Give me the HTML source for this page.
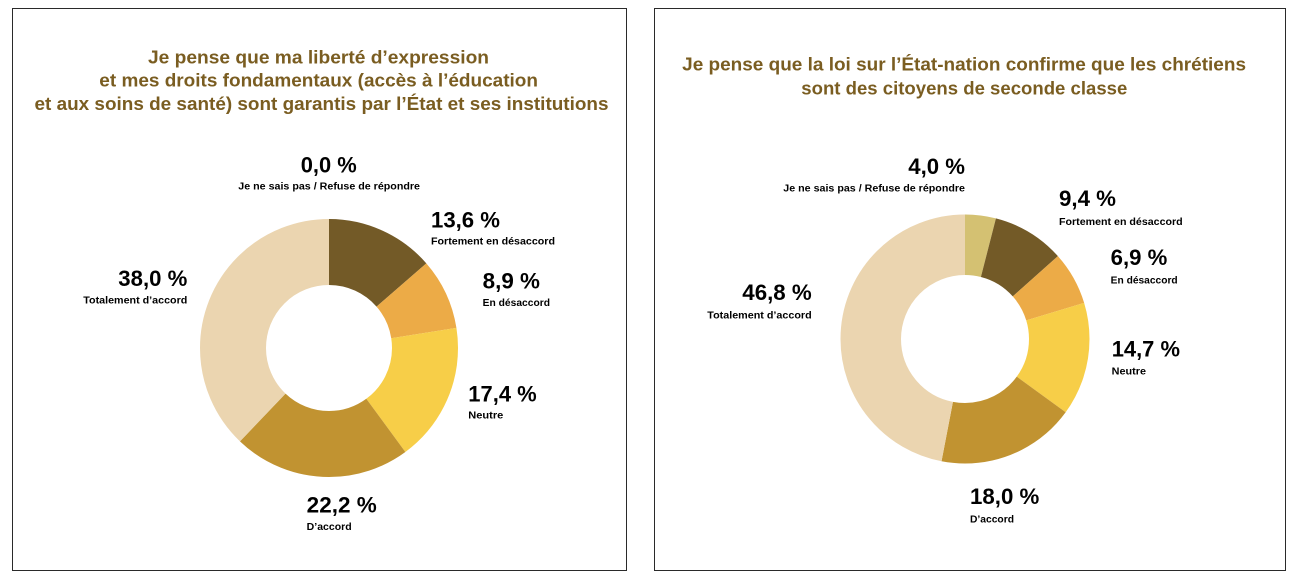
<!DOCTYPE html>
<html>
<head>
<meta charset="utf-8">
<style>
  html, body { margin: 0; padding: 0; background: #ffffff; }
  svg { display: block; }
  .t { font-family: "Liberation Sans", Arial, sans-serif; font-weight: bold; fill: #7a5d21; font-size: 18px; }
  .p { font-family: "Liberation Sans", Arial, sans-serif; font-weight: bold; fill: #000; font-size: 22px; }
  .l { font-family: "Liberation Sans", Arial, sans-serif; font-weight: bold; fill: #000; font-size: 10px; }
</style>
</head>
<body>
<svg width="1304" height="586" viewBox="0 0 1304 586" xmlns="http://www.w3.org/2000/svg">
  <rect x="0" y="0" width="1304" height="586" fill="#ffffff"/>

  <!-- Panels -->
  <rect x="12.5" y="8.5" width="614" height="562" fill="#ffffff" stroke="#2a2a2a" stroke-width="1"/>
  <rect x="654.5" y="8.5" width="631" height="562" fill="#ffffff" stroke="#2a2a2a" stroke-width="1"/>

  <!-- LEFT TITLE -->
  <text class="t" x="148" y="63.3" textLength="341" lengthAdjust="spacingAndGlyphs">Je pense que ma liberté d’expression</text>
  <text class="t" x="99.3" y="86.7" textLength="438.7" lengthAdjust="spacingAndGlyphs">et mes droits fondamentaux (accès à l’éducation</text>
  <text class="t" x="34.5" y="110" textLength="574" lengthAdjust="spacingAndGlyphs">et aux soins de santé) sont garantis par l’État et ses institutions</text>

  <!-- LEFT DONUT: center (329,348), r_mid 96, width 66, C=603.186 -->
  <g transform="rotate(-90 329 348)" fill="none" stroke-width="66">
    <circle cx="329" cy="348" r="96" stroke="#735a27" stroke-dasharray="82.03 603.19" stroke-dashoffset="0"/>
    <circle cx="329" cy="348" r="96" stroke="#ecab47" stroke-dasharray="53.68 603.19" stroke-dashoffset="-82.03"/>
    <circle cx="329" cy="348" r="96" stroke="#f7ce48" stroke-dasharray="104.95 603.19" stroke-dashoffset="-135.72"/>
    <circle cx="329" cy="348" r="96" stroke="#c19331" stroke-dasharray="133.91 603.19" stroke-dashoffset="-240.67"/>
    <circle cx="329" cy="348" r="96" stroke="#ebd5b0" stroke-dasharray="228.61 603.19" stroke-dashoffset="-374.58"/>
  </g>

  <!-- LEFT LABELS -->
  <text class="p" x="300.7" y="172.7" textLength="56" lengthAdjust="spacingAndGlyphs">0,0 %</text>
  <text class="l" x="238.3" y="189.3" textLength="181.7" lengthAdjust="spacingAndGlyphs">Je ne sais pas / Refuse de répondre</text>

  <text class="p" x="431" y="227.3" textLength="69" lengthAdjust="spacingAndGlyphs">13,6 %</text>
  <text class="l" x="431" y="244.3" textLength="124" lengthAdjust="spacingAndGlyphs">Fortement en désaccord</text>

  <text class="p" x="482.7" y="288.3" textLength="57.3" lengthAdjust="spacingAndGlyphs">8,9 %</text>
  <text class="l" x="482.7" y="306" textLength="67.3" lengthAdjust="spacingAndGlyphs">En désaccord</text>

  <text class="p" x="118.3" y="286" textLength="69" lengthAdjust="spacingAndGlyphs">38,0 %</text>
  <text class="l" x="83.3" y="303.3" textLength="104" lengthAdjust="spacingAndGlyphs">Totalement d’accord</text>

  <text class="p" x="468.3" y="401.7" textLength="68.4" lengthAdjust="spacingAndGlyphs">17,4 %</text>
  <text class="l" x="468.3" y="418.3" textLength="35" lengthAdjust="spacingAndGlyphs">Neutre</text>

  <text class="p" x="306.7" y="512.7" textLength="70" lengthAdjust="spacingAndGlyphs">22,2 %</text>
  <text class="l" x="306.7" y="530" textLength="45" lengthAdjust="spacingAndGlyphs">D’accord</text>

  <!-- RIGHT TITLE -->
  <text class="t" x="682.2" y="70.6" textLength="563.8" lengthAdjust="spacingAndGlyphs">Je pense que la loi sur l’État-nation confirme que les chrétiens</text>
  <text class="t" x="801.3" y="94.7" textLength="326" lengthAdjust="spacingAndGlyphs">sont des citoyens de seconde classe</text>

  <!-- RIGHT DONUT: center (965,339), r_mid 94.25, width 60.5, C=592.19 -->
  <g transform="rotate(-90 965 339)" fill="none" stroke-width="60.5">
    <circle cx="965" cy="339" r="94.25" stroke="#d4c172" stroke-dasharray="23.69 592.19" stroke-dashoffset="0"/>
    <circle cx="965" cy="339" r="94.25" stroke="#735a27" stroke-dasharray="55.67 592.19" stroke-dashoffset="-23.69"/>
    <circle cx="965" cy="339" r="94.25" stroke="#ecab47" stroke-dasharray="40.86 592.19" stroke-dashoffset="-79.35"/>
    <circle cx="965" cy="339" r="94.25" stroke="#f7ce48" stroke-dasharray="87.05 592.19" stroke-dashoffset="-120.21"/>
    <circle cx="965" cy="339" r="94.25" stroke="#c19331" stroke-dasharray="106.59 592.19" stroke-dashoffset="-207.27"/>
    <circle cx="965" cy="339" r="94.25" stroke="#ebd5b0" stroke-dasharray="278.33 592.19" stroke-dashoffset="-313.86"/>
  </g>

  <!-- RIGHT LABELS -->
  <text class="p" x="908.3" y="174" textLength="56.7" lengthAdjust="spacingAndGlyphs">4,0 %</text>
  <text class="l" x="783.3" y="191.7" textLength="181.7" lengthAdjust="spacingAndGlyphs">Je ne sais pas / Refuse de répondre</text>

  <text class="p" x="1059" y="206" textLength="57" lengthAdjust="spacingAndGlyphs">9,4 %</text>
  <text class="l" x="1059" y="225" textLength="123.7" lengthAdjust="spacingAndGlyphs">Fortement en désaccord</text>

  <text class="p" x="1110.7" y="265" textLength="56.6" lengthAdjust="spacingAndGlyphs">6,9 %</text>
  <text class="l" x="1110.7" y="283.3" textLength="67" lengthAdjust="spacingAndGlyphs">En désaccord</text>

  <text class="p" x="742.3" y="300" textLength="69.4" lengthAdjust="spacingAndGlyphs">46,8 %</text>
  <text class="l" x="707.3" y="318.3" textLength="104.4" lengthAdjust="spacingAndGlyphs">Totalement d’accord</text>

  <text class="p" x="1111.7" y="356.7" textLength="68.3" lengthAdjust="spacingAndGlyphs">14,7 %</text>
  <text class="l" x="1111.7" y="374.3" textLength="34.3" lengthAdjust="spacingAndGlyphs">Neutre</text>

  <text class="p" x="970" y="504" textLength="69.3" lengthAdjust="spacingAndGlyphs">18,0 %</text>
  <text class="l" x="970" y="522.7" textLength="44" lengthAdjust="spacingAndGlyphs">D’accord</text>
</svg>
</body>
</html>
